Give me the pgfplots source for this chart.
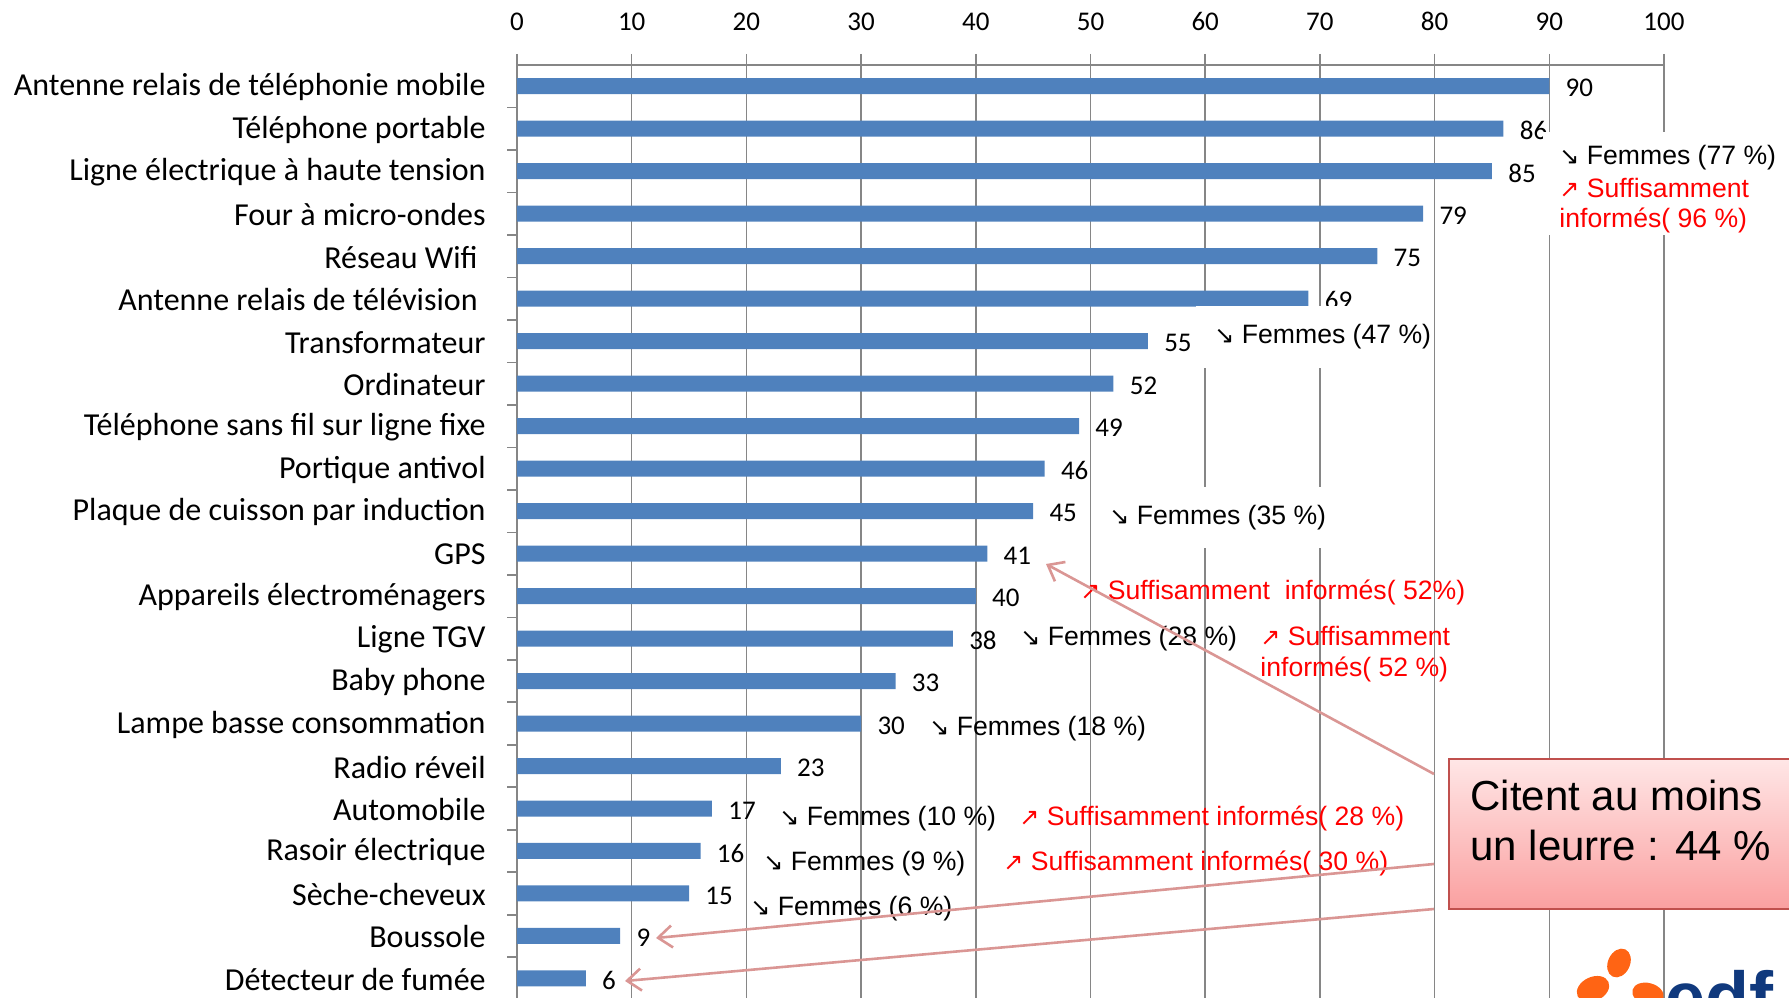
\documentclass[border=0pt]{standalone}
\usepackage{pgfplots}
\pgfplotsset{compat=1.18}
\usepackage{fontspec}
\setmainfont{Carlito}
\newfontfamily\arial{Liberation Sans}
\newfontfamily\arialbf{Liberation Sans Bold}
\newfontfamily\dv{DejaVu Sans}
\usetikzlibrary{arrows.meta}
\definecolor{barblue}{RGB}{79,129,189}
\definecolor{gridgray}{RGB}{134,134,134}
\definecolor{arrowpink}{RGB}{218,150,148}
\definecolor{annred}{RGB}{255,0,0}
\definecolor{boxtop}{RGB}{255,230,230}
\definecolor{boxbot}{RGB}{250,160,160}
\definecolor{boxborder}{RGB}{192,80,77}
\definecolor{edforange}{RGB}{255,100,20}
\definecolor{edfblue}{RGB}{16,57,125}
\newcommand\dn{{\dv\fontsize{12}{12}\selectfont ↘}}
\newcommand\up{{\dv\fontsize{12}{12}\selectfont ↗}}
\newcommand\ann{\arial\fontsize{13.3}{16}\selectfont}
\begin{document}
\begin{tikzpicture}
\useasboundingbox (0,0) rectangle (894.5pt,498.5pt);
\begin{axis}[
  at={(258.5pt,466pt)}, anchor=north west,
  scale only axis, width=573.5pt, height=467.35pt,
  xmin=0, xmax=100, ymin=-0.5, ymax=21.5,
  xbar, bar width=8pt,
  axis x line=top, axis y line=left,
  axis line style={gridgray, line width=1.2pt, -},
  xtick={0,10,...,100},
  xmajorgrids, grid style={gridgray, line width=0.8pt},
  tick align=outside, major tick length=5.5pt,
  x tick style={gridgray, line width=0.8pt},
  /pgf/number format/assume math mode=true,
  xticklabel style={font=\fontsize{13.5}{13.5}\selectfont, anchor=base, inner sep=0pt, yshift=11.7pt},
  ytick={0,...,21},
  yticklabels={{Détecteur de fumée},{Boussole},{Sèche-cheveux},{Rasoir électrique},{Automobile},{Radio réveil},{Lampe basse consommation},{Baby phone},{Ligne TGV},{Appareils électroménagers},{GPS},{Plaque de cuisson par induction},{Portique antivol},{Téléphone sans fil sur ligne fixe},{Ordinateur},{Transformateur},{Antenne relais de télévision\kern4pt},{Réseau Wifi\kern4pt},{Four à micro-ondes},{Ligne électrique à haute tension},{Téléphone portable},{Antenne relais de téléphonie mobile}},
  y tick style={draw=none},
  yticklabel style={font=\fontsize{16}{16}\selectfont, anchor=east, inner sep=0pt, xshift=-10pt, yshift=-0.5pt},
  extra y ticks={0.5,1.5,...,20.5},
  extra y tick labels={},
  extra y tick style={y tick style={draw=gridgray, line width=0.8pt}, major tick length=5pt, xmajorgrids=false, ymajorgrids=false},
  nodes near coords,
  nodes near coords align={horizontal},
  every node near coord/.append style={font=\fontsize{13.5}{13.5}\selectfont, anchor=west, inner sep=0pt, xshift=8pt, yshift=-1pt, text=black},
  clip=false,
]
\addplot[fill=barblue, draw=none] coordinates {
(90,21) (86,20) (85,19) (79,18) (75,17) (69,16) (55,15) (52,14) (49,13) (46,12) (45,11)
(41,10) (40,9) (38,8) (33,7) (30,6) (23,5) (17,4) (16,3) (15,2) (9,1) (6,0)};
\end{axis}
\begin{scope}[x=0.5pt, y=-0.5pt, shift={(0pt,498.5pt)}]
  % white label boxes
  \fill[white] (1543,132) rectangle (1800,235);
  \fill[white] (1196,306) rectangle (1430,368);
  \fill[white] (1092,487) rectangle (1330,548);
  % annotations (baselines)
  \tikzset{ann/.style={anchor=base west, inner sep=0pt, font=\ann}}
  \node[ann] at (1559,165) {\dn\ Femmes (77~\%)};
  \node[ann, text=annred] at (1559,198) {\up\ Suffisamment};
  \node[ann, text=annred] at (1559,228) {informés( 96~\%)};
  \node[ann] at (1214,344) {\dn\ Femmes (47~\%)};
  \node[ann] at (1109,525) {\dn\ Femmes (35~\%)};
  \node[ann, text=annred] at (1080,600) {\up\ Suffisamment\ \ informés( 52\%)};
  \node[ann] at (1020,646) {\dn\ Femmes (28~\%)};
  \node[ann, text=annred] at (1260,646) {\up\ Suffisamment};
  \node[ann, text=annred] at (1260,676) {informés( 52~\%)};
  \node[ann] at (929,735) {\dn\ Femmes (18~\%)};
  \node[ann] at (779,825) {\dn\ Femmes (10~\%)};
  \node[ann, text=annred] at (1019,825) {\up\ Suffisamment informés( 28~\%)};
  \node[ann] at (763,870) {\dn\ Femmes (9~\%)};
  \node[ann, text=annred] at (1003,870) {\up\ Suffisamment informés( 30~\%)};
  \node[ann] at (750,915) {\dn\ Femmes (6~\%)};
  % callout box
  \shade[top color=boxtop, bottom color=boxbot] (1449,759) rectangle (1800,909);
  \draw[boxborder, line width=1.2pt] (1449,759) rectangle (1800,909);
  \node[anchor=west, inner sep=0pt, font=\arial\fontsize{21}{25}\selectfont] at (1470,795) {Citent au moins};
  \node[anchor=west, inner sep=0pt, font=\arial\fontsize{21}{25}\selectfont] at (1470,845) {un leurre : 44 \%};
  % pink arrows
  \draw[arrowpink, line width=1.3pt, -{Straight Barb[length=7pt,width=11pt]}] (1434,774) -- (1046,564);
  \draw[arrowpink, line width=1.3pt, -{Straight Barb[length=7pt,width=11pt]}] (1434,864) -- (656,938);
  \draw[arrowpink, line width=1.3pt, -{Straight Barb[length=7pt,width=11pt]}] (1434,909) -- (625,981);
  % EDF logo (partial, cut by the page edge as in the reference)
  \fill[edforange, rotate around={-25:(1619,963)}] (1619,963) ellipse (11 and 15);
  \fill[edforange, rotate around={25:(1593,989)}] (1593,989) ellipse (17 and 12);
  \fill[edforange, rotate around={-15:(1648,994)}] (1648,994) ellipse (16 and 11);
  \node[anchor=base west, inner sep=0pt, font=\arialbf\fontsize{36}{36}\selectfont, text=edfblue] at (1665,1022) {edf};
\end{scope}
\end{tikzpicture}
\end{document}
